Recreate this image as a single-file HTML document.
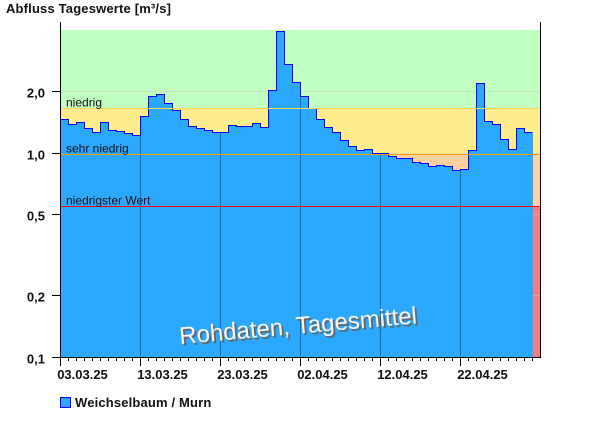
<!DOCTYPE html>
<html>
<head>
<meta charset="utf-8">
<title>Abfluss Tageswerte</title>
<style>
html,body{margin:0;padding:0;background:#fff;width:600px;height:426px;overflow:hidden}
svg{display:block;font-family:"Liberation Sans",sans-serif}
</style>
</head>
<body>
<svg id="chart" xmlns="http://www.w3.org/2000/svg" width="600" height="426" viewBox="0 0 600 426"></svg>
<script>
const dateLabels = ['03.03.25','13.03.25','23.03.25','02.04.25','12.04.25','22.04.25'];
const yTickValues = [0.1,0.2,0.5,1,2];
const yTickLabels = ['0,1','0,2','0,5','1,0','2,0'];
const dailyFlow = [1.461,1.381,1.413,1.321,1.263,1.413,1.291,1.277,1.248,1.221,
  1.512,1.893,1.937,1.750,1.617,1.461,1.351,1.321,1.291,1.263,
  1.263,1.366,1.351,1.351,1.397,1.336,2.026,3.937,2.715,2.217,
  1.893,1.654,1.461,1.336,1.263,1.154,1.078,1.031,1.043,0.989,
  0.997,0.963,0.942,0.942,0.901,0.890,0.861,0.871,0.861,0.823,
  0.832,1.031,2.192,1.429,1.381,1.167,1.043,1.321,1.263];
const thresholdNames = ['niedrig','sehr niedrig','niedrigster Wert'];
const thresholdValues = [1.651,0.985,0.548];
const zoneTop = 4.0;
const totalDays = 60;
const daysPerLabel = 10;

const NS = 'http://www.w3.org/2000/svg';
const svg = document.getElementById('chart');
const plotLeft = 60, plotRight = 540, plotBottom = 357.5;
const decadePx = 204.5;
function xScale(day){ return plotLeft + day * (plotRight - plotLeft) / totalDays; }
function yRaw(v){ return plotBottom - Math.log10(v / 0.1) * decadePx; }
function yScale(v){ return Math.round(yRaw(v) - 0.5) + 0.5; }
function make(tag, props, parent){
  const el = document.createElementNS(NS, tag);
  for (const k in props) el.setAttribute(k, props[k]);
  (parent || svg).appendChild(el);
  return el;
}
const crisp = 'crispEdges';

// background zones
const zoneTopY = Math.ceil(yRaw(zoneTop));
const y1 = yScale(thresholdValues[0]), y2 = yScale(thresholdValues[1]), y3 = yScale(thresholdValues[2]);
const zoneBounds = [zoneTopY, y1, y2, y3, plotBottom];
const zoneColors = ['#c0ffc0','#ffec8c','#ffd0a0','#f08080'];
const zoneNames = ['zone-normal','zone-niedrig','zone-sehr-niedrig','zone-niedrigster'];
zoneColors.forEach(function(c,i){
  const r = make('rect',{x:plotLeft,y:zoneBounds[i],width:plotRight-plotLeft,height:zoneBounds[i+1]-zoneBounds[i],fill:c,'shape-rendering':crisp});
  
  
});

// horizontal grid
yTickValues.forEach(function(v){
  const g = make('line',{x1:plotLeft,x2:plotRight,y1:yScale(v),y2:yScale(v),stroke:'#c8c8c8','stroke-opacity':0.45,'shape-rendering':crisp});
  
  
});

// area
const stepPoints = [];
dailyFlow.forEach(function(v,i){
  const y = yScale(v);
  stepPoints.push(xScale(i)+','+y);
  stepPoints.push(xScale(i+1)+','+y);
});
const lastX = xScale(dailyFlow.length) + 1;
const lastY = yScale(dailyFlow[dailyFlow.length - 1]);
const areaShape = make('polygon',{points:xScale(0)+','+plotBottom+' '+stepPoints.join(' ')+' '+lastX+','+lastY+' '+lastX+','+plotBottom,fill:'#2ba8ff',stroke:'none','shape-rendering':crisp});



// vertical grid inside the bars
dateLabels.forEach(function(lbl,i){
  const day = i * daysPerLabel;
  if (i === 0) return;
  const x = xScale(day) + 0.5;
  const g = make('line',{x1:x,x2:x,y1:yScale(dailyFlow[day]),y2:plotBottom,stroke:'#23699a','shape-rendering':crisp});
  
  
});

// outline
const outline = make('polyline',{points:stepPoints.map(function(p){const a=p.split(',');return (+a[0]+0.5)+','+a[1];}).join(' '),fill:'none',stroke:'#0000ff','stroke-width':1,'shape-rendering':crisp});



// thresholds
const thresholdColors = ['#ffd850','#ff9c00','#ff0000'];
thresholdValues.forEach(function(v,i){
  const y = yScale(v);
  const l = make('line',{x1:plotLeft,x2:plotRight,y1:y,y2:y,stroke:thresholdColors[i],'shape-rendering':crisp});
  
  
  const t = make('text',{x:66,y:y-2,'font-size':12,fill:'#111'});
  t.textContent = thresholdNames[i];
  
  
});

// axes
const axisSegments = [[60.5,22,60.5,358],[540.5,22,540.5,358],[60,357.5,541,357.5]];
axisSegments.forEach(function(a){
  const l = make('line',{x1:a[0],y1:a[1],x2:a[2],y2:a[3],stroke:'#000','shape-rendering':crisp});
  
  
});

// y ticks
yTickValues.forEach(function(v,i){
  const y = yScale(v);
  const l = make('line',{x1:52,x2:60,y1:y,y2:y,stroke:'#000','shape-rendering':crisp});
  
  
  const t = make('text',{x:45,y:y+6,'text-anchor':'end','font-size':13,'font-weight':'bold',fill:'#111'});
  t.textContent = yTickLabels[i];
  
  
});

// x ticks
for (let d = 0; d < totalDays; d++){
  const major = d % daysPerLabel === 0;
  const x = xScale(d) + 0.5;
  const l = make('line',{x1:x,x2:x,y1:357,y2:major?366:361,stroke:'#000','shape-rendering':crisp});
  
  
}
dateLabels.forEach(function(lbl,i){
  const t = make('text',{x:xScale(i*daysPerLabel)+22.5,y:379,'text-anchor':'middle','font-size':13,'font-weight':'bold',fill:'#111'});
  t.textContent = lbl;
  
  
});

// title
const chartTitle = make('text',{x:6,y:13,'font-size':13,'font-weight':'bold',fill:'#111','letter-spacing':0.17});
chartTitle.textContent = 'Abfluss Tageswerte [m³/s]';



// watermark
const wmShadow = make('text',{x:0,y:0,transform:'translate(182,346) rotate(-5)','font-size':24,fill:'#666666'});
wmShadow.textContent = 'Rohdaten, Tagesmittel';


const wmText = make('text',{x:0,y:0,transform:'translate(180,344) rotate(-5)','font-size':24,fill:'#f8f8f8'});
wmText.textContent = 'Rohdaten, Tagesmittel';



// legend
const legendSwatch = make('rect',{x:60.5,y:397.5,width:10,height:10,fill:'#2ba8ff',stroke:'#0000ff','shape-rendering':crisp});


const legendLabel = make('text',{x:75,y:407,'font-size':13,'font-weight':'bold',fill:'#111','letter-spacing':0.16});
legendLabel.textContent = 'Weichselbaum / Murn';


</script>
</body>
</html>
